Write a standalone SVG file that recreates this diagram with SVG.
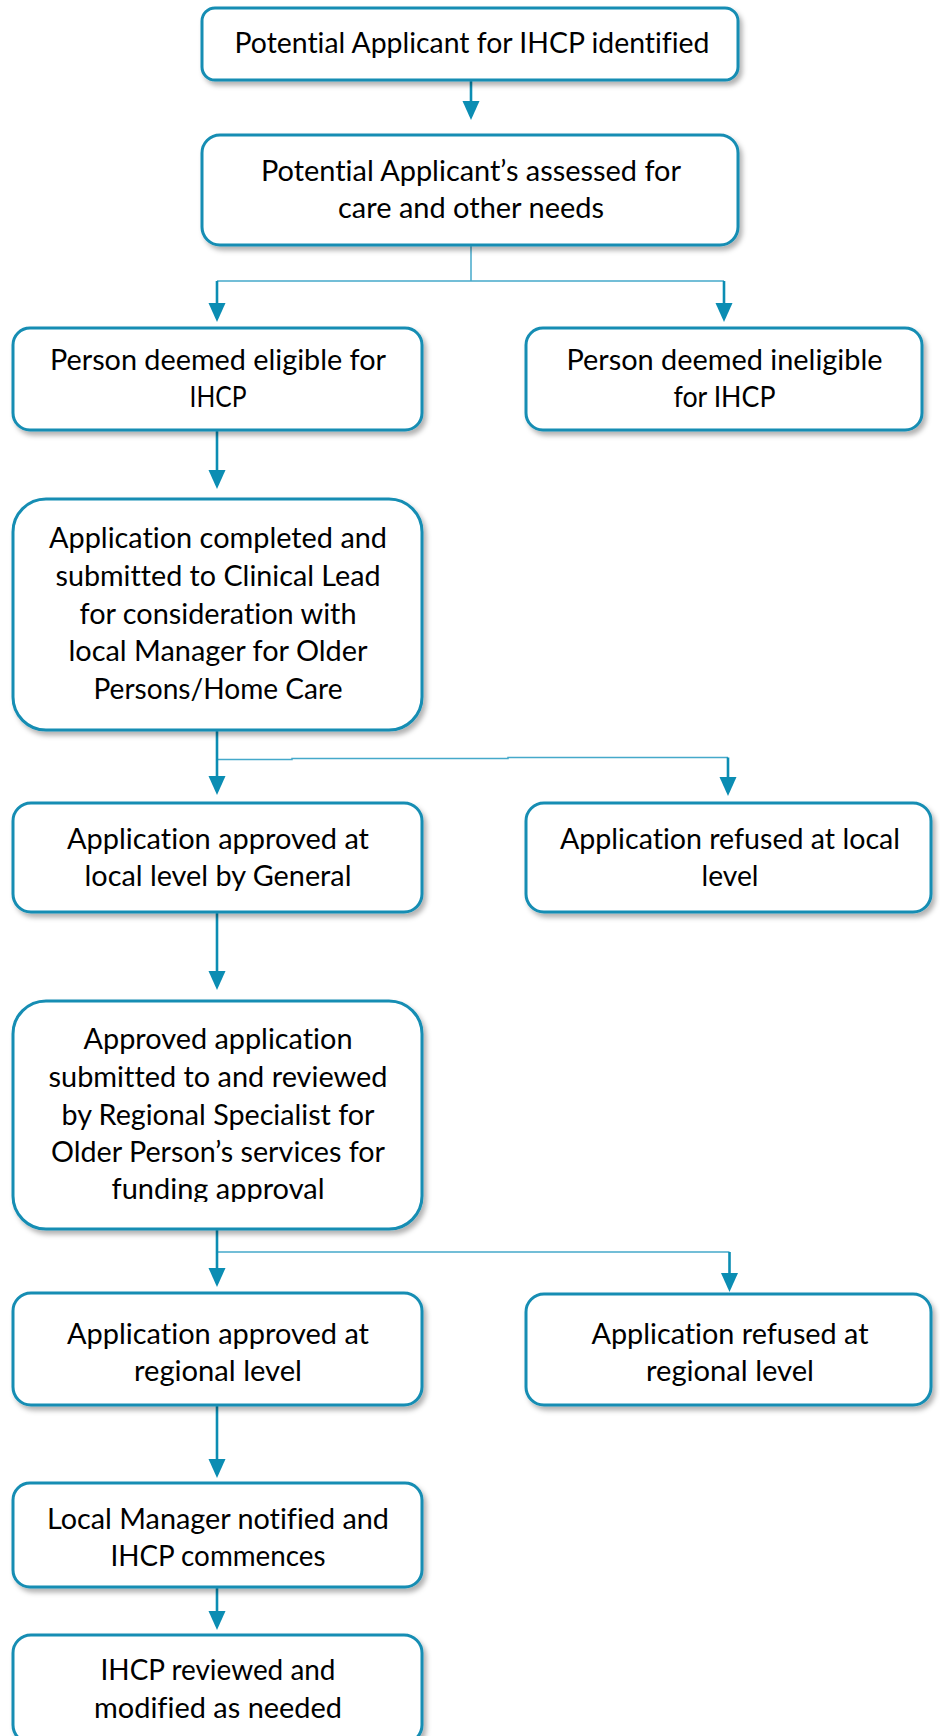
<svg xmlns="http://www.w3.org/2000/svg" width="940" height="1736" viewBox="0 0 940 1736">
  <defs>
    <filter id="shadow" x="-5%" y="-5%" width="115%" height="120%">
      <feDropShadow dx="3" dy="4" stdDeviation="2.5" flood-color="#000" flood-opacity="0.3"/>
    </filter>
    <marker id="head" markerUnits="userSpaceOnUse" markerWidth="20" markerHeight="18" refX="0" refY="8.5" orient="auto">
      <path d="M0,0 L19,8.5 L0,17 Z" fill="#0b8db3"/>
    </marker>
    <clipPath id="clip8">
      <rect x="13" y="1001" width="409" height="201"/>
    </clipPath>
  </defs>
  <style>
    .box { fill: #ffffff; stroke: #138db3; stroke-width: 3; filter: url(#shadow); }
    .lbl { font-family: Lato, "Open Sans", "Liberation Sans", sans-serif; font-size: 28px; fill: #000; text-anchor: middle; font-variant-ligatures: none; }
    .shaft { fill: none; stroke: #0b8db3; stroke-width: 2.6; }
    .thin { fill: none; stroke: #45a9ca; stroke-width: 1.5; }
  </style>

  <rect width="940" height="1736" fill="#ffffff"/>

  <!-- connectors -->
  <g id="connectors">
    <path class="shaft" d="M471,80 V101" marker-end="url(#head)"/>
    <path class="thin" d="M471,245 V281 M217,281 H724"/>
    <path class="shaft" stroke-width="2" d="M217,281 V303" marker-end="url(#head)"/>
    <path class="shaft" stroke-width="2" d="M724,281 V303" marker-end="url(#head)"/>
    <path class="shaft" d="M217,431 V470" marker-end="url(#head)"/>
    <path class="thin" d="M217,759.5 H292 V758.5 H508 V757.5 H728"/>
    <path class="shaft" d="M217,730 V776" marker-end="url(#head)"/>
    <path class="shaft" stroke-width="2" d="M728,757.5 V777" marker-end="url(#head)"/>
    <path class="shaft" d="M217,912 V971" marker-end="url(#head)"/>
    <path class="thin" d="M217,1252 H729.5"/>
    <path class="shaft" d="M217,1229 V1268" marker-end="url(#head)"/>
    <path class="shaft" stroke-width="2" d="M729.5,1252 V1273" marker-end="url(#head)"/>
    <path class="shaft" d="M217,1405 V1459" marker-end="url(#head)"/>
    <path class="shaft" d="M217,1587 V1611" marker-end="url(#head)"/>
  </g>

  <g id="n1">
    <rect class="box" x="202" y="8" width="536" height="72" rx="13"/>
    <text class="lbl" x="472" y="53" textLength="475" lengthAdjust="spacingAndGlyphs">Potential Applicant for IHCP identified</text>
  </g>

  <g id="n2">
    <rect class="box" x="202" y="135" width="536" height="110" rx="18"/>
    <text class="lbl" x="471" y="181" textLength="420" lengthAdjust="spacingAndGlyphs">Potential Applicant’s assessed for</text>
    <text class="lbl" x="471" y="218" textLength="266" lengthAdjust="spacingAndGlyphs">care and other needs</text>
  </g>

  <g id="n3">
    <rect class="box" x="13" y="328" width="409" height="102" rx="17"/>
    <text class="lbl" x="218" y="370" textLength="336" lengthAdjust="spacingAndGlyphs">Person deemed eligible for</text>
    <text class="lbl" x="218" y="407" textLength="57" lengthAdjust="spacingAndGlyphs">IHCP</text>
  </g>

  <g id="n4">
    <rect class="box" x="526" y="328" width="396" height="102" rx="17"/>
    <text class="lbl" x="724.5" y="370" textLength="316" lengthAdjust="spacingAndGlyphs">Person deemed ineligible</text>
    <text class="lbl" x="724.5" y="407" textLength="102" lengthAdjust="spacingAndGlyphs">for IHCP</text>
  </g>

  <g id="n5">
    <rect class="box" x="13" y="499" width="409" height="231" rx="33"/>
    <text class="lbl" x="218" y="548" textLength="338" lengthAdjust="spacingAndGlyphs">Application completed and</text>
    <text class="lbl" x="218" y="586" textLength="325" lengthAdjust="spacingAndGlyphs">submitted to Clinical Lead</text>
    <text class="lbl" x="218" y="623.5" textLength="277" lengthAdjust="spacingAndGlyphs">for consideration with</text>
    <text class="lbl" x="218" y="661" textLength="299" lengthAdjust="spacingAndGlyphs">local Manager for Older</text>
    <text class="lbl" x="218" y="698.5" textLength="249" lengthAdjust="spacingAndGlyphs">Persons/Home Care</text>
  </g>

  <g id="n6">
    <rect class="box" x="13" y="803" width="409" height="109" rx="18"/>
    <text class="lbl" x="218" y="849" textLength="302" lengthAdjust="spacingAndGlyphs">Application approved at</text>
    <text class="lbl" x="218" y="886" textLength="267" lengthAdjust="spacingAndGlyphs">local level by General</text>
  </g>

  <g id="n7">
    <rect class="box" x="526" y="803" width="405" height="109" rx="18"/>
    <text class="lbl" x="730" y="849" textLength="340" lengthAdjust="spacingAndGlyphs">Application refused at local</text>
    <text class="lbl" x="730" y="886" textLength="57" lengthAdjust="spacingAndGlyphs">level</text>
  </g>

  <g id="n8">
    <rect class="box" x="13" y="1001" width="409" height="228" rx="33"/>
    <g clip-path="url(#clip8)">
      <text class="lbl" x="218" y="1049" textLength="269" lengthAdjust="spacingAndGlyphs">Approved application</text>
      <text class="lbl" x="218" y="1087" textLength="339" lengthAdjust="spacingAndGlyphs">submitted to and reviewed</text>
      <text class="lbl" x="218" y="1124.5" textLength="313" lengthAdjust="spacingAndGlyphs">by Regional Specialist for</text>
      <text class="lbl" x="218" y="1162" textLength="334" lengthAdjust="spacingAndGlyphs">Older Person’s services for</text>
      <text class="lbl" x="218" y="1199" textLength="213" lengthAdjust="spacingAndGlyphs">funding approval</text>
    </g>
  </g>

  <g id="n9">
    <rect class="box" x="13" y="1293" width="409" height="112" rx="18"/>
    <text class="lbl" x="218" y="1344" textLength="302" lengthAdjust="spacingAndGlyphs">Application approved at</text>
    <text class="lbl" x="218" y="1381" textLength="168" lengthAdjust="spacingAndGlyphs">regional level</text>
  </g>

  <g id="n10">
    <rect class="box" x="526" y="1294" width="405" height="111" rx="18"/>
    <text class="lbl" x="730" y="1344" textLength="277" lengthAdjust="spacingAndGlyphs">Application refused at</text>
    <text class="lbl" x="730" y="1381" textLength="168" lengthAdjust="spacingAndGlyphs">regional level</text>
  </g>

  <g id="n11">
    <rect class="box" x="13" y="1483" width="409" height="104" rx="17"/>
    <text class="lbl" x="218" y="1529" textLength="342" lengthAdjust="spacingAndGlyphs">Local Manager notified and</text>
    <text class="lbl" x="218" y="1566" textLength="215" lengthAdjust="spacingAndGlyphs">IHCP commences</text>
  </g>

  <g id="n12">
    <rect class="box" x="13" y="1635" width="409" height="108" rx="18"/>
    <text class="lbl" x="218" y="1680" textLength="235" lengthAdjust="spacingAndGlyphs">IHCP reviewed and</text>
    <text class="lbl" x="218" y="1718" textLength="248" lengthAdjust="spacingAndGlyphs">modified as needed</text>
  </g>
</svg>
